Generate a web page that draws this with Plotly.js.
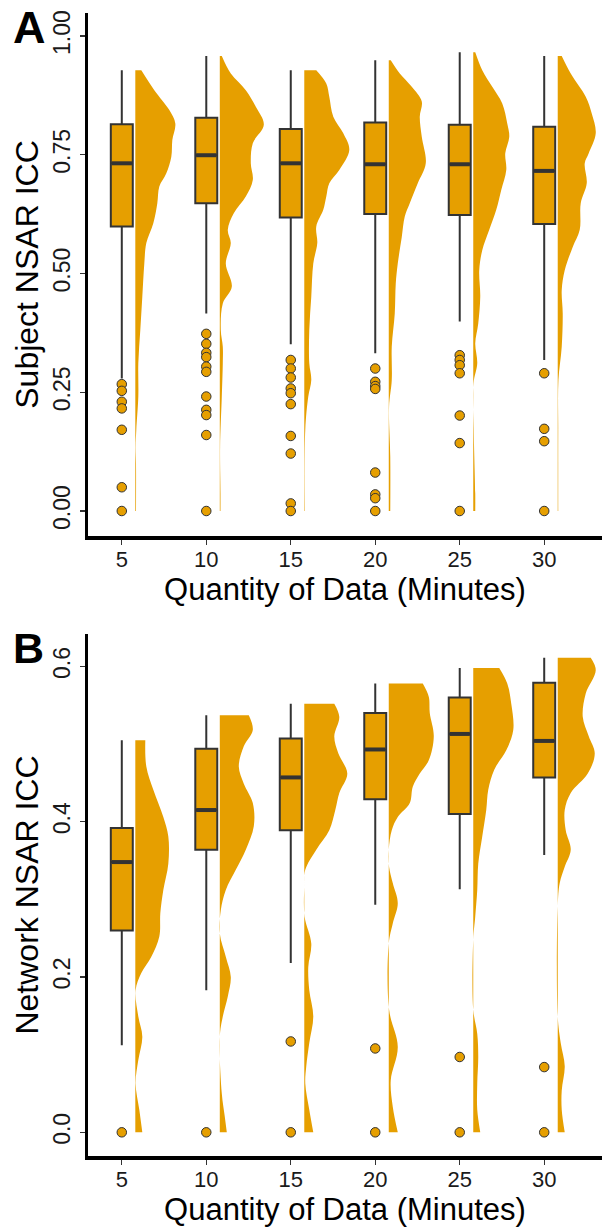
<!DOCTYPE html>
<html>
<head>
<meta charset="utf-8">
<script src="https://cdn.plot.ly/plotly-3.0.1.min.js"></script>
<style>html,body{margin:0;padding:0;background:#fff;}#chart{width:602px;height:1231px;}</style>
</head>
<body>
<div id="chart"></div>
<script>
// ---------- DATA ----------
const minutes = [5, 10, 15, 20, 25, 30];

// Panel A: Subject NSAR ICC box statistics
const aLower  = [0.279, 0.416, 0.351, 0.332, 0.399, 0.318];
const aQ1     = [0.599, 0.648, 0.618, 0.625, 0.623, 0.604];
const aMedian = [0.732, 0.749, 0.732, 0.730, 0.730, 0.716];
const aQ3     = [0.814, 0.828, 0.804, 0.818, 0.813, 0.809];
const aUpper  = [0.928, 0.958, 0.928, 0.949, 0.966, 0.958];
const aOutliers = [
  [0.267, 0.253, 0.230, 0.216, 0.171, 0.050, 0.0],
  [0.373, 0.352, 0.333, 0.324, 0.304, 0.293, 0.241, 0.213, 0.202, 0.160, 0.0],
  [0.318, 0.300, 0.281, 0.258, 0.248, 0.225, 0.158, 0.121, 0.016, 0.0],
  [0.300, 0.272, 0.263, 0.257, 0.081, 0.035, 0.027, 0.0],
  [0.328, 0.318, 0.307, 0.290, 0.201, 0.143, 0.0],
  [0.290, 0.173, 0.147, 0.0]
];
// Panel A density (half violin): ICC levels and relative density
const aDensY = [
  [0.928,0.886,0.844,0.816,0.781,0.746,0.711,0.683,0.648,0.606,0.564,0.521,0.451,0.381,0.311,0.241,0.171,0.135,0.100,0.0],
  [0.958,0.921,0.886,0.851,0.813,0.774,0.732,0.697,0.662,0.627,0.592,0.564,0.521,0.472,0.437,0.381,0.346,0.311,0.241,0.135,0.037,0.0],
  [0.928,0.900,0.872,0.830,0.795,0.760,0.718,0.690,0.662,0.634,0.599,0.564,0.521,0.451,0.381,0.311,0.276,0.241,0.171,0.0],
  [0.949,0.921,0.893,0.862,0.830,0.788,0.732,0.690,0.648,0.620,0.577,0.521,0.479,0.416,0.346,0.276,0.220,0.114,0.0],
  [0.966,0.928,0.893,0.858,0.816,0.788,0.753,0.718,0.676,0.634,0.592,0.549,0.507,0.451,0.395,0.353,0.311,0.269,0.171,0.037,0.0],
  [0.958,0.921,0.872,0.837,0.795,0.753,0.732,0.690,0.648,0.592,0.556,0.507,0.465,0.416,0.346,0.276,0.171,0.0]
];
const aDens = [
  [6,19,34,40,37,36,31,24,22,18,11,9,7,5,3,3,1,0.3,0.7,0.7],
  [2,11,26,36,44,33,31,33,26,14,8,11,6,12,3,1,3,3,2,0.3,0.7,0.7],
  [12,22,25,29,39,45,35,25,22,19,12,13,9,7,5,5,7,4,1,0.5],
  [2,11,23,33,31,33,37,29,21,16,13,9,7,6,3,3,0.3,1.5,1.5],
  [2,9,19,29,34,36,32,33,28,23,16,9,6,7,5,2,4,0.3,0.5,2,2],
  [4,13,28,34,38,31,27,29,23,22,15,7,4,5,4,0.7,0.5,0.5]
];

// Panel B: Network NSAR ICC box statistics
const bLower  = [0.112, 0.183, 0.218, 0.293, 0.313, 0.357];
const bQ1     = [0.260, 0.364, 0.389, 0.429, 0.410, 0.457];
const bMedian = [0.348, 0.415, 0.457, 0.493, 0.513, 0.504];
const bQ3     = [0.392, 0.494, 0.507, 0.540, 0.560, 0.579];
const bUpper  = [0.505, 0.537, 0.552, 0.578, 0.598, 0.611];
const bOutliers = [
  [0.0],
  [0.0],
  [0.117, 0.0],
  [0.108, 0.0],
  [0.097, 0.0],
  [0.084, 0.0]
];
const bDensY = [
  [0.505,0.471,0.441,0.406,0.381,0.346,0.312,0.282,0.252,0.226,0.205,0.183,0.149,0.123,0.093,0.063,0.029,0.0],
  [0.537,0.518,0.497,0.471,0.449,0.424,0.394,0.364,0.338,0.312,0.286,0.256,0.226,0.200,0.175,0.149,0.123,0.050,0.020,0.0],
  [0.552,0.535,0.510,0.488,0.462,0.437,0.415,0.389,0.364,0.338,0.316,0.278,0.243,0.213,0.183,0.149,0.115,0.085,0.063,0.029,0.0],
  [0.578,0.561,0.540,0.510,0.479,0.462,0.445,0.424,0.406,0.389,0.364,0.342,0.321,0.295,0.269,0.243,0.158,0.110,0.067,0.033,0.0],
  [0.598,0.578,0.552,0.518,0.492,0.467,0.441,0.415,0.381,0.346,0.312,0.278,0.248,0.158,0.127,0.097,0.063,0.029,0.0],
  [0.611,0.595,0.565,0.535,0.510,0.488,0.462,0.437,0.415,0.389,0.364,0.342,0.321,0.291,0.149,0.115,0.085,0.054,0.029,0.0]
];
const bDens = [
  [10,11,18,28,33,33,28,25,24,16,6,0.3,3,7,3,0.3,4,7],
  [29,33,24,19,24,33,34,26,16,6,1,0,6,11,8,3,0,2,5,7],
  [30,35,30,34,43,35,31,25,12,1,0,0.3,7,4,5,9,5,2,1,5,9],
  [34,40,41,45,40,31,24,21,9,3,0,0.3,4,9,4,0,0.3,9,2,4,9],
  [26,34,38,40,33,21,15,13,9,5,4,2,0,0,4,5,4,4,7],
  [33,38,28,25,31,37,30,13,7,8,13,7,2,0,0,3,7,4,4,7]
];

// ---------- STYLE ----------
const ORANGE = '#E69F00';
const DARK = '#333333';
const FONT = 'Liberation Sans, Arial, Helvetica, sans-serif';
const BOX_W = 1.3;         // box width in x units
const VIOLIN_OFF = 0.8;    // gap from box centre to violin base
const DENS_SCALE = 0.0592; // x units per density unit

function panelTraces(xa, ya, lower, q1, med, q3, upper, outliers, densY, dens) {
  const traces = [];
  // half violins: flat base line, then smoothed density edge filled back to it
  minutes.forEach((m, i) => {
    const base = m + VIOLIN_OFF;
    const ys = densY[i];
    traces.push({
      type: 'scatter', mode: 'lines', xaxis: xa, yaxis: ya,
      x: ys.map(() => base), y: ys,
      line: {width: 0, color: ORANGE}, hoverinfo: 'skip', showlegend: false
    });
    traces.push({
      type: 'scatter', mode: 'lines', xaxis: xa, yaxis: ya,
      x: dens[i].map(d => base + d * DENS_SCALE), y: ys,
      fill: 'tonextx', fillcolor: ORANGE,
      line: {width: 0, color: ORANGE, shape: 'spline', smoothing: 1},
      hoverinfo: 'skip', showlegend: false
    });
  });
  // boxes
  traces.push({
    type: 'box', xaxis: xa, yaxis: ya,
    x: minutes, q1: q1, median: med, q3: q3, lowerfence: lower, upperfence: upper,
    width: BOX_W, whiskerwidth: 0, boxpoints: false,
    fillcolor: ORANGE, line: {color: DARK, width: 2},
    showlegend: false
  });
  // thicker medians
  const mx = [], my = [];
  minutes.forEach((m, i) => {
    mx.push(m - BOX_W / 2 + 0.05, m + BOX_W / 2 - 0.05, null);
    my.push(med[i], med[i], null);
  });
  traces.push({
    type: 'scatter', mode: 'lines', xaxis: xa, yaxis: ya,
    x: mx, y: my, line: {color: DARK, width: 4},
    hoverinfo: 'skip', showlegend: false
  });
  // outliers
  const ox = [], oy = [];
  outliers.forEach((arr, i) => arr.forEach(v => { ox.push(minutes[i]); oy.push(v); }));
  traces.push({
    type: 'scatter', mode: 'markers', xaxis: xa, yaxis: ya,
    x: ox, y: oy,
    marker: {color: ORANGE, size: 9.5, line: {color: DARK, width: 1}},
    showlegend: false
  });
  return traces;
}

const data = [].concat(
  panelTraces('x', 'y', aLower, aQ1, aMedian, aQ3, aUpper, aOutliers, aDensY, aDens),
  panelTraces('x2', 'y2', bLower, bQ1, bMedian, bQ3, bUpper, bOutliers, bDensY, bDens)
);

const H = 1231, W = 602;
function xAxis(anchor) {
  return {
    anchor: anchor, domain: [88 / W, 1], range: [3, 33.42],
    tickvals: minutes, ticktext: minutes.map(String),
    showline: true, linecolor: '#000', linewidth: 3.5,
    ticks: 'outside', ticklen: 5, tickwidth: 1.2, tickcolor: DARK,
    ticklabelstandoff: -4,
    showgrid: false, zeroline: false,
    tickfont: {family: FONT, size: 22, color: '#1a1a1a'},
    title: {text: 'Quantity of Data (Minutes)', font: {family: FONT, size: 31, color: '#000'}, standoff: 6},
    fixedrange: true
  };
}
function yAxis(anchor, domPx, range, vals, fmt, title) {
  return {
    anchor: anchor, domain: [1 - domPx[1] / H, 1 - domPx[0] / H], range: range,
    tickvals: vals, tickformat: fmt, tickangle: -90,
    showline: true, linecolor: '#000', linewidth: 3.5,
    ticks: 'outside', ticklen: 5, tickwidth: 1.2, tickcolor: DARK,
    showgrid: false, zeroline: false,
    tickfont: {family: FONT, size: 23, color: '#1a1a1a'},
    title: {text: title, font: {family: FONT, size: 32, color: '#000'}, standoff: 2},
    fixedrange: true
  };
}

const layout = {
  width: W, height: H,
  margin: {l: 0, r: 0, t: 0, b: 0},
  paper_bgcolor: '#fff', plot_bgcolor: '#fff',
  showlegend: false,
  font: {family: FONT},
  xaxis: xAxis('y'),
  yaxis: yAxis('x', [13, 536], [-0.0526, 1.0484], [0, 0.25, 0.5, 0.75, 1.0], '.2f', 'Subject NSAR ICC'),
  xaxis2: xAxis('y2'),
  yaxis2: yAxis('x2', [634, 1156], [-0.0305, 0.6417], [0, 0.2, 0.4, 0.6], '.1f', 'Network NSAR ICC'),
  annotations: [
    {text: '<b>A</b>', xref: 'paper', yref: 'paper', x: 11 / W, y: 1, xanchor: 'left', yanchor: 'top',
     showarrow: false, font: {family: FONT, size: 45, color: '#000'}},
    {text: '<b>B</b>', xref: 'paper', yref: 'paper', x: 11 / W, y: 1 - 622 / H, xanchor: 'left', yanchor: 'top',
     showarrow: false, font: {family: FONT, size: 43, color: '#000'}}
  ]
};

Plotly.newPlot('chart', data, layout, {staticPlot: true, displayModeBar: false});
</script>
</body>
</html>
